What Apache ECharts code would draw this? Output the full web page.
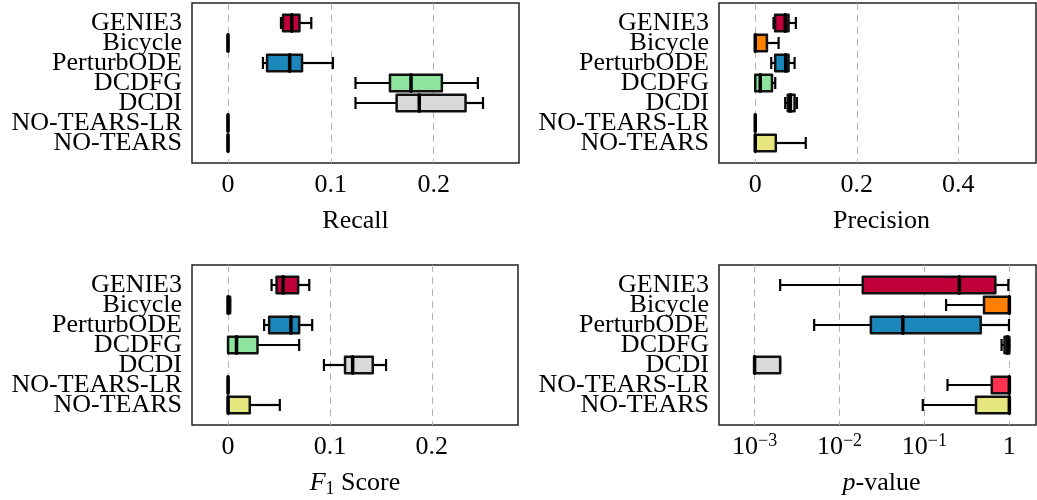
<!DOCTYPE html>
<html><head><meta charset="utf-8">
<script src="https://cdn.jsdelivr.net/npm/echarts@6/dist/echarts.min.js"></script>
<style>html,body{margin:0;padding:0;background:#fff}#c{width:1037px;height:500px}</style>
</head><body><div id="c"></div>
<script>
const categories = ['GENIE3','Bicycle','PerturbODE','DCDFG','DCDI','NO-TEARS-LR','NO-TEARS'];
const colors = ['#C1003B','#FF7F00','#1B87BA','#8EE39E','#D9D9D9','#FF334F','#E6E67E'];
// each row: [min, Q1, median, Q3, max]
const recall = [
  [0.0515,0.0535,0.062,0.0695,0.081],
  [0,0,0,0,0],
  [0.034,0.038,0.060,0.072,0.102],
  [0.124,0.1575,0.178,0.208,0.243],
  [0.124,0.164,0.186,0.231,0.248],
  [0,0,0,0,0],
  [0,0,0,0,0]
];
const precision = [
  [0.036,0.039,0.059,0.0656,0.080],
  [0,0,0,0.023,0.046],
  [0.0315,0.0393,0.060,0.0656,0.0775],
  [0,0,0.0098,0.033,0.0394],
  [0.059,0.064,0.069,0.0775,0.082],
  [0,0,0,0,0],
  [0,0,0,0.0405,0.0995]
];
const f1score = [
  [0.0427,0.0476,0.054,0.0688,0.0797],
  [0,0,0,0.002,0.002],
  [0.0354,0.0403,0.0617,0.0698,0.0826],
  [0,0,0.0083,0.0289,0.0698],
  [0.0941,0.1148,0.1223,0.142,0.1551],
  [0,0,0,0,0],
  [0,0,0,0.0213,0.0508]
];
const pvalue = [
  [0.0020,0.0188,0.258,0.684,0.973],
  [0.180,0.503,1,1,1],
  [0.00503,0.0234,0.0557,0.460,0.99],
  [0.81,0.877,0.95,1,1],
  [0.001,0.001,0.001,0.002,0.002],
  [0.187,0.621,1,1,1],
  [0.0957,0.405,1,1,1]
];
const linTicksRecall = [-0.035, 0.283];
const linTicksPrecision = [-0.0714, 0.553];
const linTicksF1 = [-0.0354, 0.2846];
const logRangeP = [0.000381, 2.06];

const FONT = 'Liberation Serif';
const chart = echarts.init(document.getElementById('c'), null, {renderer:'canvas'});

function renderBox(params, api) {
  const idx = api.value(0);
  const v = [api.value(1), api.value(2), api.value(3), api.value(4), api.value(5)];
  const xs = v.map(val => api.coord([val, idx])[0]);
  const y = api.coord([v[0], idx])[1];
  const yb0 = api.coord([v[0], idx - 0.41])[1];
  const yb1 = api.coord([v[0], idx + 0.41])[1];
  const yc0 = api.coord([v[0], idx - 0.3])[1];
  const yc1 = api.coord([v[0], idx + 0.3])[1];
  const lineS = {stroke:'#000', lineWidth:2.2};
  const col = colors[idx];
  return {
    type:'group',
    children:[
      {type:'line', shape:{x1:xs[0],y1:y,x2:xs[1],y2:y}, style:lineS},
      {type:'line', shape:{x1:xs[3],y1:y,x2:xs[4],y2:y}, style:lineS},
      {type:'line', shape:{x1:xs[0],y1:yc0,x2:xs[0],y2:yc1}, style:lineS},
      {type:'line', shape:{x1:xs[4],y1:yc0,x2:xs[4],y2:yc1}, style:lineS},
      {type:'rect', shape:{x:xs[1],y:Math.min(yb0,yb1),width:xs[3]-xs[1],height:Math.abs(yb1-yb0)},
        style:{fill:col, stroke:'#111', lineWidth:2.5, lineJoin:'round'}},
      {type:'line', shape:{x1:xs[2],y1:yb0,x2:xs[2],y2:yb1}, style:{stroke:'#000', lineWidth:3.5, lineCap:'round'}}
    ]
  };
}

function seriesFor(data, gi) {
  return {
    type:'custom', xAxisIndex:gi, yAxisIndex:gi,
    renderItem: renderBox,
    encode:{x:[1,2,3,4,5], y:0},
    data: data.map((r,i) => [i].concat(r)),
    clip:false, silent:true
  };
}

const grids = [
  {left:192, top:3, width:327, height:160},
  {left:719, top:3, width:317, height:160},
  {left:192, top:265, width:326, height:160},
  {left:719, top:265, width:317, height:160}
].map(g => Object.assign(g, {show:true, borderColor:'#222', borderWidth:1.5, backgroundColor:'transparent'}));

const yAxes = [0,1,2,3].map(gi => ({
  type:'value', gridIndex:gi, inverse:true, min:-1, max:7, interval:1,
  axisLine:{show:false}, axisTick:{show:false}, splitLine:{show:false},
  axisLabel:{formatter: v => categories[v] || '', fontFamily:FONT, fontSize:26, color:'#000', margin:10}
}));

const splitL = {show:true, showMinLine:false, showMaxLine:false, lineStyle:{color:'#b5b5b5', type:[7,5], width:1}};
const nameStyle = {fontFamily:FONT, fontSize:26, color:'#000', lineHeight:30};
const labelBase = {fontFamily:FONT, fontSize:26, color:'#000', margin:7, showMinLabel:false, showMaxLabel:false, lineHeight:30};

const xAxes = [
  {type:'value', gridIndex:0, min:linTicksRecall[0], max:linTicksRecall[1], splitNumber:3,
   name:'Recall', nameLocation:'middle', nameGap:43, nameTextStyle:nameStyle,
   axisLine:{show:false}, axisTick:{show:false}, splitLine:splitL,
   axisLabel:Object.assign({formatter: v => String(+v.toFixed(2))}, labelBase)},
  {type:'value', gridIndex:1, min:linTicksPrecision[0], max:linTicksPrecision[1], splitNumber:3,
   name:'Precision', nameLocation:'middle', nameGap:43, nameTextStyle:Object.assign({padding:[0,0,0,8]}, nameStyle),
   axisLine:{show:false}, axisTick:{show:false}, splitLine:splitL,
   axisLabel:Object.assign({formatter: v => String(+v.toFixed(2))}, labelBase)},
  {type:'value', gridIndex:2, min:linTicksF1[0], max:linTicksF1[1], splitNumber:3,
   name:'{it|F}{sub|1} Score', nameLocation:'middle', nameGap:43,
   nameTextStyle:Object.assign({rich:{
     it:{fontFamily:FONT, fontSize:26, fontStyle:'italic', color:'#000', lineHeight:30},
     sub:{fontFamily:FONT, fontSize:18, color:'#000', lineHeight:16, verticalAlign:'bottom'}
   }}, nameStyle),
   axisLine:{show:false}, axisTick:{show:false}, splitLine:splitL,
   axisLabel:Object.assign({formatter: v => String(+v.toFixed(2))}, labelBase)},
  {type:'log', logBase:10, gridIndex:3, min:logRangeP[0], max:logRangeP[1],
   name:'{it|p}-value', nameLocation:'middle', nameGap:43,
   nameTextStyle:Object.assign({padding:[0,0,0,8], rich:{
     it:{fontFamily:FONT, fontSize:26, fontStyle:'italic', color:'#000', lineHeight:30}
   }}, nameStyle),
   axisLine:{show:false}, axisTick:{show:false}, splitLine:splitL,
   axisLabel:Object.assign({
     formatter: v => { const k = Math.round(Math.log10(v)); return k === 0 ? '1' : '10{sup|\u2212' + (-k) + '}'; },
     rich:{sup:{fontFamily:FONT, fontSize:18, color:'#000', lineHeight:18, verticalAlign:'top'}}
   }, labelBase)}
];

chart.setOption({
  animation:false,
  backgroundColor:'#fff',
  grid: grids,
  xAxis: xAxes,
  yAxis: yAxes,
  series:[seriesFor(recall,0), seriesFor(precision,1), seriesFor(f1score,2), seriesFor(pvalue,3)]
});
</script>
</body></html>
